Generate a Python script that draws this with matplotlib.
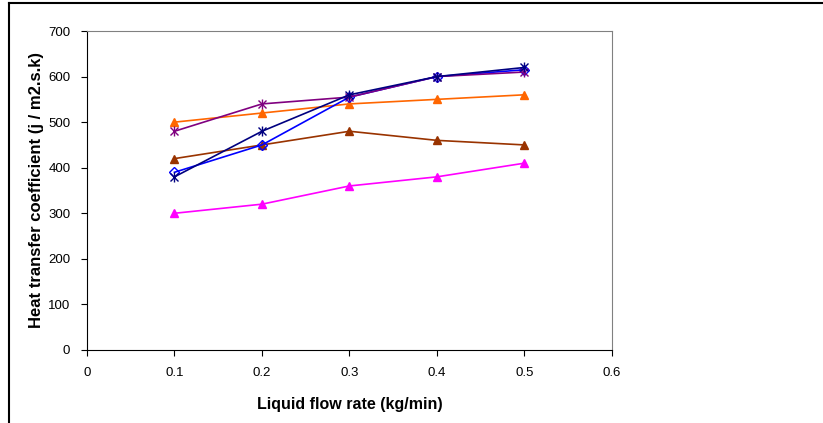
import matplotlib
matplotlib.use("Agg")
from matplotlib import pyplot as plt
from matplotlib.lines import Line2D

plt.rcParams['font.family'] = ['Liberation Sans', 'DejaVu Sans']

# liquid flow rate (kg/min)
flow = [0.1, 0.2, 0.3, 0.4, 0.5]

# heat transfer coefficient series
orange_tri = [500, 520, 540, 550, 560]
brown_tri = [420, 450, 480, 460, 450]
magenta_tri = [300, 320, 360, 380, 410]
purple_star = [480, 540, 555, 600, 610]
navy_star = [380, 480, 560, 600, 620]
blue_diamond = [390, 450, 555, 600, 615]

fig = plt.figure(figsize=(8.23, 4.23), dpi=100)
ax = fig.add_axes([0.1057, 0.1726, 0.6379, 0.7541])

# triangle series
ax.plot(flow, orange_tri, color='#FF6600', marker='^', markersize=6, lw=1.2)
ax.plot(flow, brown_tri, color='#993300', marker='^', markersize=6, lw=1.2)
ax.plot(flow, magenta_tri, color='#FF00FF', marker='^', markersize=6, lw=1.2)

# diamond series
ax.plot(flow, blue_diamond, color='#0000FF', marker='D', markersize=5,
        markerfacecolor='none', lw=1.2)

# star series (x with a vertical bar, like the excel star)
for vals, col in [(purple_star, '#800080'), (navy_star, '#000080')]:
    ax.plot(flow, vals, color=col, marker='x', markersize=6, lw=1.2)
    ax.plot(flow, vals, color=col, marker='|', markersize=7, ls='none')

ax.set_xlim(0, 0.6)
ax.set_ylim(0, 700)
ax.set_xticks([0, 0.1, 0.2, 0.3, 0.4, 0.5, 0.6])
ax.set_xticklabels(['0', '0.1', '0.2', '0.3', '0.4', '0.5', '0.6'])
ax.set_yticks(range(0, 701, 100))
ax.tick_params(direction='out', length=4, width=0.8, labelsize=9.5, pad=8)

for side in ['top', 'right']:
    ax.spines[side].set_color('#808080')
for side in ['left', 'bottom']:
    ax.spines[side].set_color('black')

ax.set_xlabel('Liquid flow rate (kg/min)', fontsize=11.5, fontweight='bold', labelpad=13)
ax.set_ylabel('Heat transfer coefficient (j / m2.s.k)', fontsize=12, fontweight='bold', labelpad=3)

# outer chart border (top and left)
fig.add_artist(Line2D([9 / 823, 1], [1 - 3 / 423, 1 - 3 / 423], color='black', lw=1.5,
                      transform=fig.transFigure))
fig.add_artist(Line2D([9 / 823, 9 / 823], [0, 1 - 3 / 423], color='black', lw=1.5,
                      transform=fig.transFigure))

plt.savefig('out.png', dpi=100)
